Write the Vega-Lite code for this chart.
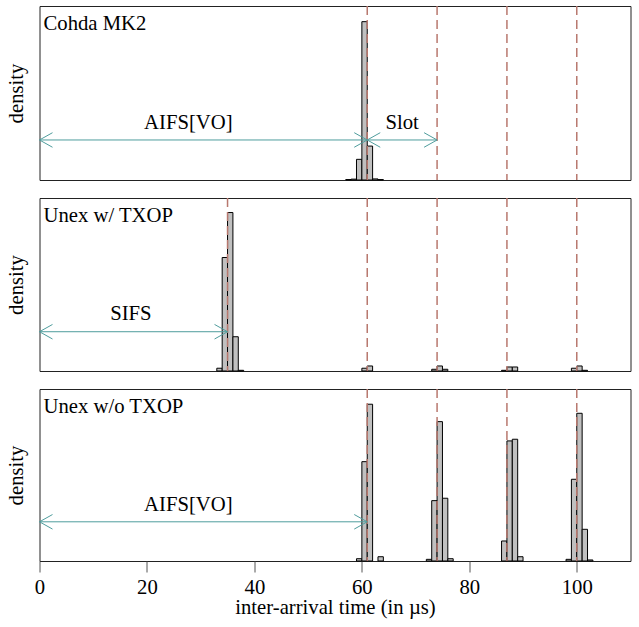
{
  "$schema": "https://vega.github.io/schema/vega-lite/v6.json",
  "padding": {"left": 4.5, "top": 4, "right": 2, "bottom": 2},
  "background": "white",
  "config": {
    "view": {"stroke": "#222", "strokeWidth": 1},
    "axis": {"grid": false, "labelFont": "Liberation Serif", "titleFont": "Liberation Serif", "labelFontSize": 20.7, "titleFontSize": 20.7, "titleFontWeight": "normal", "labelColor": "#000", "titleColor": "#000"}
  },
  "datasets": {
    "hist": [
      {"p": "Cohda MK2", "start": 57, "end": 58, "density": 0.002},
      {"p": "Cohda MK2", "start": 58, "end": 59, "density": 0.004},
      {"p": "Cohda MK2", "start": 59, "end": 60, "density": 0.095},
      {"p": "Cohda MK2", "start": 60, "end": 61, "density": 0.728},
      {"p": "Cohda MK2", "start": 61, "end": 62, "density": 0.156},
      {"p": "Cohda MK2", "start": 62, "end": 63, "density": 0.005},
      {"p": "Cohda MK2", "start": 63, "end": 64, "density": 0.002},
      {"p": "Unex w/ TXOP", "start": 33, "end": 34, "density": 0.008},
      {"p": "Unex w/ TXOP", "start": 34, "end": 35, "density": 0.328},
      {"p": "Unex w/ TXOP", "start": 35, "end": 36, "density": 0.458},
      {"p": "Unex w/ TXOP", "start": 36, "end": 37, "density": 0.099},
      {"p": "Unex w/ TXOP", "start": 37, "end": 38, "density": 0.002},
      {"p": "Unex w/ TXOP", "start": 60, "end": 61, "density": 0.008},
      {"p": "Unex w/ TXOP", "start": 61, "end": 62, "density": 0.0145},
      {"p": "Unex w/ TXOP", "start": 73, "end": 74, "density": 0.005},
      {"p": "Unex w/ TXOP", "start": 74, "end": 75, "density": 0.0145},
      {"p": "Unex w/ TXOP", "start": 75, "end": 76, "density": 0.005},
      {"p": "Unex w/ TXOP", "start": 86, "end": 87, "density": 0.002},
      {"p": "Unex w/ TXOP", "start": 87, "end": 88, "density": 0.0116},
      {"p": "Unex w/ TXOP", "start": 88, "end": 89, "density": 0.0116},
      {"p": "Unex w/ TXOP", "start": 99, "end": 100, "density": 0.008},
      {"p": "Unex w/ TXOP", "start": 100, "end": 101, "density": 0.0145},
      {"p": "Unex w/ TXOP", "start": 101, "end": 102, "density": 0.002},
      {"p": "Unex w/o TXOP", "start": 59, "end": 60, "density": 0.0022},
      {"p": "Unex w/o TXOP", "start": 60, "end": 61, "density": 0.0953},
      {"p": "Unex w/o TXOP", "start": 61, "end": 62, "density": 0.1504},
      {"p": "Unex w/o TXOP", "start": 63, "end": 64, "density": 0.0041},
      {"p": "Unex w/o TXOP", "start": 72, "end": 73, "density": 0.0016},
      {"p": "Unex w/o TXOP", "start": 73, "end": 74, "density": 0.0579},
      {"p": "Unex w/o TXOP", "start": 74, "end": 75, "density": 0.1337},
      {"p": "Unex w/o TXOP", "start": 75, "end": 76, "density": 0.0602},
      {"p": "Unex w/o TXOP", "start": 76, "end": 77, "density": 0.0022},
      {"p": "Unex w/o TXOP", "start": 86, "end": 87, "density": 0.0192},
      {"p": "Unex w/o TXOP", "start": 87, "end": 88, "density": 0.1152},
      {"p": "Unex w/o TXOP", "start": 88, "end": 89, "density": 0.1168},
      {"p": "Unex w/o TXOP", "start": 89, "end": 90, "density": 0.0041},
      {"p": "Unex w/o TXOP", "start": 98, "end": 99, "density": 0.0016},
      {"p": "Unex w/o TXOP", "start": 99, "end": 100, "density": 0.0784},
      {"p": "Unex w/o TXOP", "start": 100, "end": 101, "density": 0.1417},
      {"p": "Unex w/o TXOP", "start": 101, "end": 102, "density": 0.0304},
      {"p": "Unex w/o TXOP", "start": 102, "end": 103, "density": 0.001}
    ],
    "marks": [
      {"p": "Cohda MK2", "t": 61}, {"p": "Cohda MK2", "t": 74}, {"p": "Cohda MK2", "t": 87}, {"p": "Cohda MK2", "t": 100},
      {"p": "Unex w/ TXOP", "t": 35}, {"p": "Unex w/ TXOP", "t": 61}, {"p": "Unex w/ TXOP", "t": 74}, {"p": "Unex w/ TXOP", "t": 87}, {"p": "Unex w/ TXOP", "t": 100},
      {"p": "Unex w/o TXOP", "t": 61}, {"p": "Unex w/o TXOP", "t": 74}, {"p": "Unex w/o TXOP", "t": 87}, {"p": "Unex w/o TXOP", "t": 100}
    ],
    "arrows": [
      {"p": "Cohda MK2", "from": 0, "to": 61, "label": "AIFS[VO]", "at": 27.7},
      {"p": "Cohda MK2", "from": 61, "to": 74, "label": "Slot", "at": 67.5},
      {"p": "Unex w/ TXOP", "from": 0, "to": 35, "label": "SIFS", "at": 17},
      {"p": "Unex w/o TXOP", "from": 0, "to": 61, "label": "AIFS[VO]", "at": 27.7}
    ],
    "panels": [{"p": "Cohda MK2"}, {"p": "Unex w/ TXOP"}, {"p": "Unex w/o TXOP"}]
  },
  "spacing": 18,
  "bounds": "flush",
  "vconcat": [
    {
      "width": 591, "height": 174,
      "layer": [
        {"data": {"name": "hist"}, "transform": [{"filter": "datum.p === 'Cohda MK2'"}],
         "mark": {"type": "rect", "fill": "#c0c0c0", "stroke": "#000", "strokeWidth": 1},
         "encoding": {
           "x": {"field": "start", "type": "quantitative", "scale": {"domain": [0, 110], "nice": false}, "axis": null},
           "x2": {"field": "end"},
           "y": {"field": "density", "type": "quantitative", "scale": {"domain": [0, 0.8], "nice": false}, "axis": {"title": "density", "labels": false, "ticks": false, "domain": false, "titlePadding": 13}},
           "y2": {"datum": 0}
         }},
        {"data": {"name": "marks"}, "transform": [{"filter": "datum.p === 'Cohda MK2'"}],
         "mark": {"type": "rule", "color": "#b8786e", "strokeWidth": 1.5, "strokeDash": [9, 5]},
         "encoding": {"x": {"field": "t", "type": "quantitative", "axis": null}}},
        {"data": {"name": "arrows"}, "transform": [{"filter": "datum.p === 'Cohda MK2'"}],
         "layer": [
           {"mark": {"type": "rule", "color": "#4f9d9d", "strokeWidth": 1},
            "encoding": {"x": {"field": "from", "type": "quantitative", "axis": null}, "x2": {"field": "to"}, "y": {"datum": 0.184, "type": "quantitative"}}},
           {"mark": {"type": "point", "shape": "M1,-0.56L0,0L1,0.56", "size": 676, "filled": false, "stroke": "#4f9d9d", "strokeWidth": 1, "opacity": 1},
            "encoding": {"x": {"field": "from", "type": "quantitative", "axis": null}, "y": {"datum": 0.184, "type": "quantitative"}}},
           {"mark": {"type": "point", "shape": "M-1,-0.56L0,0L-1,0.56", "size": 676, "filled": false, "stroke": "#4f9d9d", "strokeWidth": 1, "opacity": 1},
            "encoding": {"x": {"field": "to", "type": "quantitative", "axis": null}, "y": {"datum": 0.184, "type": "quantitative"}}},
           {"mark": {"type": "text", "align": "center", "baseline": "alphabetic", "dy": -11, "font": "Liberation Serif", "fontSize": 20.7, "color": "#000"},
            "encoding": {"x": {"field": "at", "type": "quantitative", "axis": null}, "y": {"datum": 0.184, "type": "quantitative"}, "text": {"field": "label"}}}
         ]},
        {"data": {"name": "panels"}, "transform": [{"filter": "datum.p === 'Cohda MK2'"}],
         "mark": {"type": "text", "align": "left", "baseline": "alphabetic", "dx": 4, "dy": 24, "font": "Liberation Serif", "fontSize": 20.7, "color": "#000"},
         "encoding": {"x": {"datum": 0, "type": "quantitative", "axis": null}, "y": {"datum": 0.8, "type": "quantitative"}, "text": {"field": "p"}}}
      ]
    },
    {
      "width": 591, "height": 173,
      "layer": [
        {"data": {"name": "hist"}, "transform": [{"filter": "datum.p === 'Unex w/ TXOP'"}],
         "mark": {"type": "rect", "fill": "#c0c0c0", "stroke": "#000", "strokeWidth": 1},
         "encoding": {
           "x": {"field": "start", "type": "quantitative", "scale": {"domain": [0, 110], "nice": false}, "axis": null},
           "x2": {"field": "end"},
           "y": {"field": "density", "type": "quantitative", "scale": {"domain": [0, 0.5], "nice": false}, "axis": {"title": "density", "labels": false, "ticks": false, "domain": false, "titlePadding": 13}},
           "y2": {"datum": 0}
         }},
        {"data": {"name": "marks"}, "transform": [{"filter": "datum.p === 'Unex w/ TXOP'"}],
         "mark": {"type": "rule", "color": "#b8786e", "strokeWidth": 1.5, "strokeDash": [9, 5]},
         "encoding": {"x": {"field": "t", "type": "quantitative", "axis": null}}},
        {"data": {"name": "arrows"}, "transform": [{"filter": "datum.p === 'Unex w/ TXOP'"}],
         "layer": [
           {"mark": {"type": "rule", "color": "#4f9d9d", "strokeWidth": 1},
            "encoding": {"x": {"field": "from", "type": "quantitative", "axis": null}, "x2": {"field": "to"}, "y": {"datum": 0.1135, "type": "quantitative"}}},
           {"mark": {"type": "point", "shape": "M1,-0.56L0,0L1,0.56", "size": 676, "filled": false, "stroke": "#4f9d9d", "strokeWidth": 1, "opacity": 1},
            "encoding": {"x": {"field": "from", "type": "quantitative", "axis": null}, "y": {"datum": 0.1135, "type": "quantitative"}}},
           {"mark": {"type": "point", "shape": "M-1,-0.56L0,0L-1,0.56", "size": 676, "filled": false, "stroke": "#4f9d9d", "strokeWidth": 1, "opacity": 1},
            "encoding": {"x": {"field": "to", "type": "quantitative", "axis": null}, "y": {"datum": 0.1135, "type": "quantitative"}}},
           {"mark": {"type": "text", "align": "center", "baseline": "alphabetic", "dy": -12, "font": "Liberation Serif", "fontSize": 20.7, "color": "#000"},
            "encoding": {"x": {"field": "at", "type": "quantitative", "axis": null}, "y": {"datum": 0.1135, "type": "quantitative"}, "text": {"field": "label"}}}
         ]},
        {"data": {"name": "panels"}, "transform": [{"filter": "datum.p === 'Unex w/ TXOP'"}],
         "mark": {"type": "text", "align": "left", "baseline": "alphabetic", "dx": 4, "dy": 24, "font": "Liberation Serif", "fontSize": 20.7, "color": "#000"},
         "encoding": {"x": {"datum": 0, "type": "quantitative", "axis": null}, "y": {"datum": 0.5, "type": "quantitative"}, "text": {"field": "p"}}}
      ]
    },
    {
      "width": 591, "height": 172,
      "layer": [
        {"data": {"name": "hist"}, "transform": [{"filter": "datum.p === 'Unex w/o TXOP'"}],
         "mark": {"type": "rect", "fill": "#c0c0c0", "stroke": "#000", "strokeWidth": 1},
         "encoding": {
           "x": {"field": "start", "type": "quantitative", "scale": {"domain": [0, 110], "nice": false},
                 "axis": {"title": "inter-arrival time (in µs)", "values": [0, 20, 40, 60, 80, 100], "tickSize": 11, "tickColor": "#555", "labelPadding": 5, "domain": false, "titlePadding": 1, "labelFlush": false}},
           "x2": {"field": "end"},
           "y": {"field": "density", "type": "quantitative", "scale": {"domain": [0, 0.165], "nice": false}, "axis": {"title": "density", "labels": false, "ticks": false, "domain": false, "titlePadding": 13}},
           "y2": {"datum": 0}
         }},
        {"data": {"name": "marks"}, "transform": [{"filter": "datum.p === 'Unex w/o TXOP'"}],
         "mark": {"type": "rule", "color": "#b8786e", "strokeWidth": 1.5, "strokeDash": [9, 5]},
         "encoding": {"x": {"field": "t", "type": "quantitative"}}},
        {"data": {"name": "arrows"}, "transform": [{"filter": "datum.p === 'Unex w/o TXOP'"}],
         "layer": [
           {"mark": {"type": "rule", "color": "#4f9d9d", "strokeWidth": 1},
            "encoding": {"x": {"field": "from", "type": "quantitative"}, "x2": {"field": "to"}, "y": {"datum": 0.0376, "type": "quantitative"}}},
           {"mark": {"type": "point", "shape": "M1,-0.56L0,0L1,0.56", "size": 676, "filled": false, "stroke": "#4f9d9d", "strokeWidth": 1, "opacity": 1},
            "encoding": {"x": {"field": "from", "type": "quantitative"}, "y": {"datum": 0.0376, "type": "quantitative"}}},
           {"mark": {"type": "point", "shape": "M-1,-0.56L0,0L-1,0.56", "size": 676, "filled": false, "stroke": "#4f9d9d", "strokeWidth": 1, "opacity": 1},
            "encoding": {"x": {"field": "to", "type": "quantitative"}, "y": {"datum": 0.0376, "type": "quantitative"}}},
           {"mark": {"type": "text", "align": "center", "baseline": "alphabetic", "dy": -11, "font": "Liberation Serif", "fontSize": 20.7, "color": "#000"},
            "encoding": {"x": {"field": "at", "type": "quantitative"}, "y": {"datum": 0.0376, "type": "quantitative"}, "text": {"field": "label"}}}
         ]},
        {"data": {"name": "panels"}, "transform": [{"filter": "datum.p === 'Unex w/o TXOP'"}],
         "mark": {"type": "text", "align": "left", "baseline": "alphabetic", "dx": 4, "dy": 24, "font": "Liberation Serif", "fontSize": 20.7, "color": "#000"},
         "encoding": {"x": {"datum": 0, "type": "quantitative"}, "y": {"datum": 0.165, "type": "quantitative"}, "text": {"field": "p"}}}
      ]
    }
  ]
}
